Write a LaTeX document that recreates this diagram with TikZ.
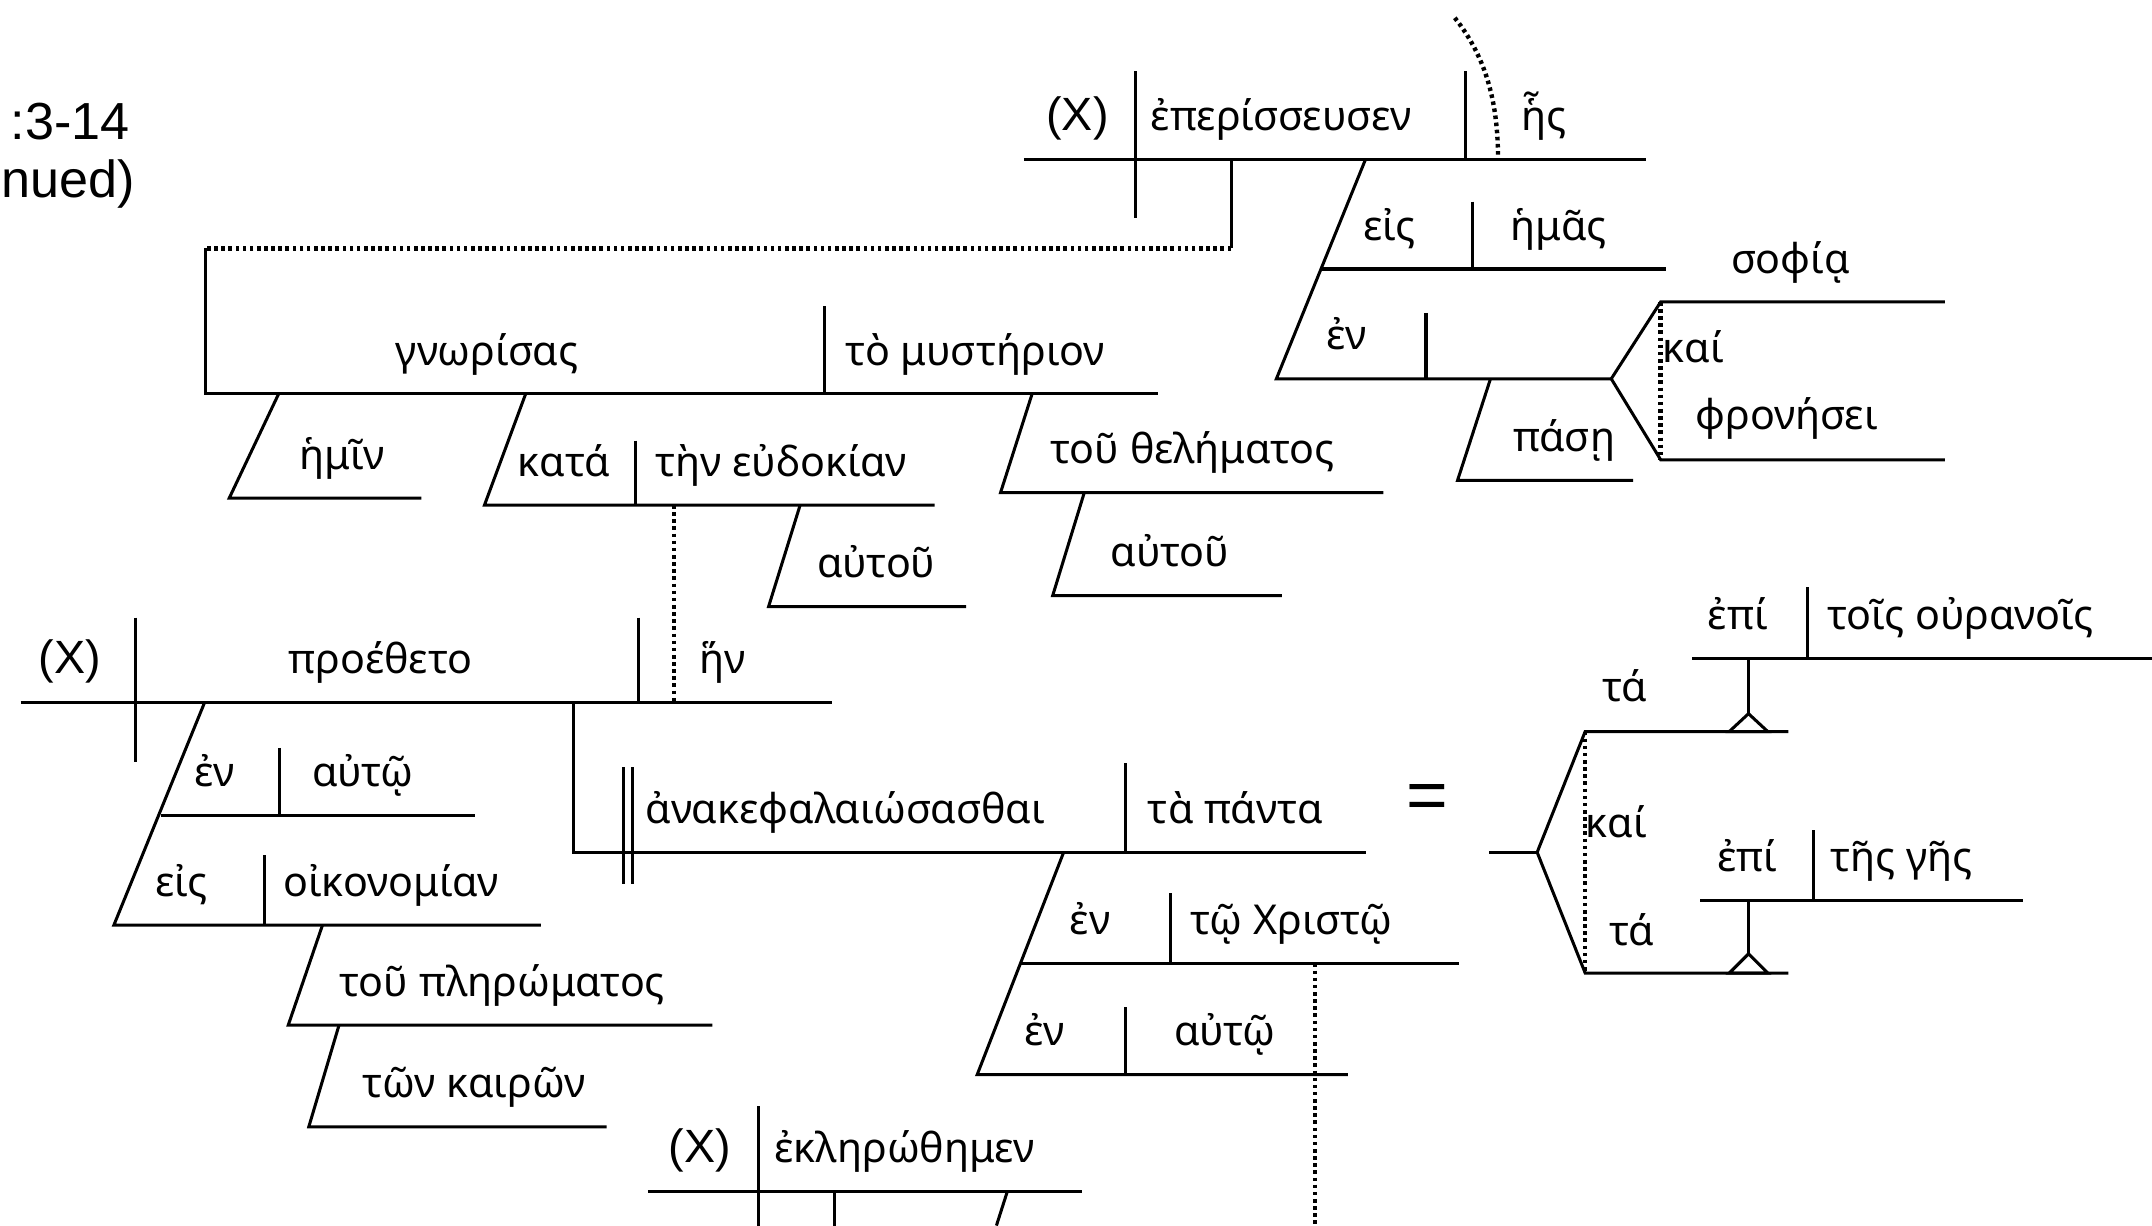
\documentclass[tikz,border=0pt]{standalone}
\usepackage{fontspec}
\newfontfamily\grk{Noto Sans}
\newfontfamily\lat{Liberation Sans}

\begin{document}
\begin{tikzpicture}[x=0.5pt,y=-0.5pt,
  word/.style={anchor=base west,inner sep=0pt,font=\grk\fontsize{15}{18}\selectfont},
  tag/.style={anchor=base west,inner sep=0pt,font=\lat\fontsize{17}{20}\selectfont},
  diag/.style={line width=1.1pt},
  tie/.style={line width=1.6pt,dash pattern=on 1.3pt off 1.3pt}]
\useasboundingbox (0,0) rectangle (1568,893);

\node[tag,anchor=base east,font=\lat\fontsize{19}{22}\selectfont] (verse) at (95,102) {:3-14};
\node[tag,anchor=base east,font=\lat\fontsize{19}{22}\selectfont] (cont) at (99,144) {nued)};

\draw[diag] (746,116) -- (1199,116);
\draw[diag] (827,52) -- (827,159);
\draw[diag] (1068,52) -- (1068,116);
\draw[tie] (1060,13) .. controls (1083,42) and (1091.5,75) .. (1091.5,116);
\node[tag] (subjA) at (762,95) {(X)};
\node[word] (verbA) at (838,95) {ἐπερίσσευσεν};
\node[word] (objA) at (1108,95) {ἧς};
\draw[diag] (897,116) -- (897,181);
\draw[tie] (897,181) -- (150,181);
\draw[diag] (150,181) -- (150,287) -- (844,287);
\draw[diag] (995,116) -- (930,276) -- (1174,276);
\draw[diag] (962.5,196) -- (1214,196);
\draw[diag] (1073,147) -- (1073,196);
\node[word] (prepA) at (993,175) {εἰς};
\node[word] (nounA) at (1100,175) {ἡμᾶς};
\draw[diag] (1039,228) -- (1039,276);
\node[word] (prepB) at (966,255) {ἐν};
\draw[diag] (1417,220) -- (1210,220) -- (1174,276) -- (1210,335) -- (1417,335);
\draw[tie] (1210,220) -- (1210,335);
\node[word] (sofia) at (1261,199) {σοφίᾳ};
\node[word] (kaiA) at (1211,264) {καί};
\node[word] (fron) at (1235,313) {φρονήσει};
\draw[diag] (1086,276) -- (1062,350) -- (1190,350);
\node[word] (pase) at (1102,329) {πάσῃ};

\node[word] (gnor) at (288,266) {γνωρίσας};
\draw[diag] (601,223) -- (601,287);
\node[word] (myst) at (616,266) {τὸ μυστήριον};
\draw[diag] (203,287) -- (167,363) -- (307,363);
\node[word] (hemin) at (218,342) {ἡμῖν};
\draw[diag] (383,287) -- (353,368) -- (681,368);
\draw[diag] (463,321) -- (463,368);
\node[word] (kata) at (377,347) {κατά};
\node[word] (eudo) at (477,347) {τὴν εὐδοκίαν};
\draw[diag] (583,368) -- (560,442) -- (704,442);
\node[word] (autouA) at (595,421) {αὐτοῦ};
\draw[diag] (752,287) -- (729,359) -- (1008,359);
\node[word] (thel) at (765,338) {τοῦ θελήματος};
\draw[diag] (790,359) -- (767,434) -- (934,434);
\node[word] (autouB) at (809,413) {αὐτοῦ};
\draw[tie] (491,368) -- (491,512);

\draw[diag] (15,512) -- (606,512);
\draw[diag] (98.5,450) -- (98.5,555);
\node[tag] (subjB) at (28,491) {(X)};
\node[word] (proe) at (210,491) {προέθετο};
\draw[diag] (465,450) -- (465,512);
\node[word] (hen) at (509,491) {ἥν};
\draw[diag] (149,512) -- (83,674) -- (394,674);
\draw[diag] (117,594) -- (346,594);
\draw[diag] (204,545) -- (204,594);
\node[word] (prepC) at (141,573) {ἐν};
\node[word] (autoA) at (227,573) {αὐτῷ};
\draw[diag] (193,623) -- (193,674);
\node[word] (prepD) at (113,653) {εἰς};
\node[word] (oiko) at (206,653) {οἰκονομίαν};
\draw[diag] (235,674) -- (210,747) -- (519,747);
\node[word] (pler) at (247,726) {τοῦ πληρώματος};
\draw[diag] (247,747) -- (225,821) -- (442,821);
\node[word] (kair) at (264,800) {τῶν καιρῶν};

\draw[diag] (418,512) -- (418,621) -- (995,621);
\draw[diag] (454,559) -- (454,644);
\draw[diag] (461,559) -- (461,644);
\node[word] (anak) at (470,600) {ἀνακεφαλαιώσασθαι};
\draw[diag] (820,556) -- (820,621);
\node[word] (panta) at (836,600) {τὰ πάντα};
\node[tag,anchor=center,font=\lat\fontsize{26}{28}\selectfont] (equal) at (1040,584) {=};
\draw[diag] (775,621) -- (712,783) -- (982,783);
\draw[diag] (744,702) -- (1063,702);
\draw[diag] (853,651) -- (853,702);
\node[word] (prepE) at (779,681) {ἐν};
\node[word] (chri) at (867,681) {τῷ Χριστῷ};
\draw[diag] (820,734) -- (820,783);
\node[word] (prepF) at (746,762) {ἐν};
\node[word] (autoB) at (855,762) {αὐτῷ};
\draw[tie] (958,702) -- (958,893);

\draw[diag] (472,868) -- (788,868);
\draw[diag] (553,806) -- (553,893);
\node[tag] (subjC) at (487,847) {(X)};
\node[word] (ekle) at (564,847) {ἐκληρώθημεν};
\draw[diag] (608,868) -- (608,893);
\draw[diag] (734,868) -- (726,893);

\draw[diag] (1085,621) -- (1120,621);
\draw[diag] (1303,533) -- (1155,533) -- (1120,621) -- (1155,709) -- (1303,709);
\draw[tie] (1155,533) -- (1155,709);
\node[word] (taA) at (1167,511) {τά};
\node[word] (kaiB) at (1155,610) {καί};
\node[word] (taB) at (1172,689) {τά};
\draw[diag] (1233,480) -- (1568,480);
\draw[diag] (1317,428) -- (1317,480);
\node[word] (epiA) at (1244,459) {ἐπί};
\node[word] (oura) at (1331,459) {τοῖς οὐρανοῖς};
\draw[diag] (1274,480) -- (1274,520);
\draw[diag] (1274,520) -- (1260,533) -- (1288,533) -- cycle;
\draw[diag] (1239,656) -- (1474,656);
\draw[diag] (1321,605) -- (1321,656);
\node[word] (epiB) at (1251,635) {ἐπί};
\node[word] (ges) at (1333,635) {τῆς γῆς};
\draw[diag] (1274,656) -- (1274,695);
\draw[diag] (1274,695) -- (1260,709) -- (1288,709) -- cycle;
\end{tikzpicture}
\end{document}
